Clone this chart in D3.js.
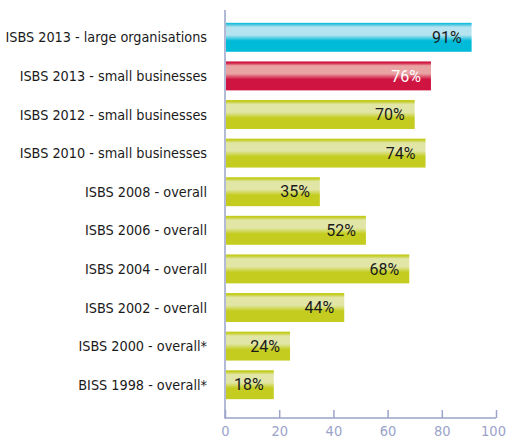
<!DOCTYPE html>
<html>
<head>
<meta charset="utf-8">
<script src="https://cdn.jsdelivr.net/npm/d3@7"></script>
<style>
  body { margin: 0; background: #fff; }
  svg { display: block; }
  .cond { font-family: "DejaVu Sans Condensed", "DejaVu Sans", sans-serif; font-stretch: condensed; }
</style>
</head>
<body>
<div id="chart"></div>
<script>
var labels = [
  "ISBS 2013 - large organisations",
  "ISBS 2013 - small businesses",
  "ISBS 2012 - small businesses",
  "ISBS 2010 - small businesses",
  "ISBS 2008 - overall",
  "ISBS 2006 - overall",
  "ISBS 2004 - overall",
  "ISBS 2002 - overall",
  "ISBS 2000 - overall*",
  "BISS 1998 - overall*"
]
var values = [91, 76, 70, 74, 35, 52, 68, 44, 24, 18]
var kinds = ["large", "small", "other", "other", "other", "other", "other", "other", "other", "other"]
var ticks = [0, 20, 40, 60, 80, 100]

var w = 507, h = 442

var svg = d3.select("#chart")
  .append("svg")
  .attr("width", w)
  .attr("height", h)

// bar gradients: thin dark top edge, light upper half, saturated lower half
var grads = {
  large: { edge: "#3cc3de", light: "#b5e3f0", dark: "#00bbd8" },
  small: { edge: "#d21a44", light: "#e9a3a2", dark: "#d01441" },
  other: { edge: "#c4cd24", light: "#e1e6a7", dark: "#c4cd1f" }
}
var defs = svg.append("defs")
Object.keys(grads).forEach(function(k) {
  var g = defs.append("linearGradient")
    .attr("id", "g-" + k)
    .attr("x1", 0).attr("y1", 0).attr("x2", 0).attr("y2", 1)
  var c = grads[k]
  g.append("stop").attr("offset", "0").attr("stop-color", c.dark)
  g.append("stop").attr("offset", "0.05").attr("stop-color", c.edge)
  g.append("stop").attr("offset", "0.15").attr("stop-color", c.light)
  g.append("stop").attr("offset", "0.42").attr("stop-color", c.light)
  g.append("stop").attr("offset", "0.62").attr("stop-color", c.dark)
  g.append("stop").attr("offset", "1").attr("stop-color", c.dark)
})

var x = d3.scaleLinear().domain([0, 100]).range([225, 496])
var y = d3.scaleBand().domain(labels).range([18, 404])
  .paddingInner(0.25).paddingOuter(0.125)

var axisColor = "#9aa3c9"

// bars
svg.selectAll(".bar")
  .data(values)
  .enter()
  .append("rect")
  .attr("class", "bar")
  .attr("x", x(0) + 1)
  .attr("y", function(d, i) { return y(labels[i]) })
  .attr("width", function(d) { return x(d) - x(0) - 1 })
  .attr("height", y.bandwidth())
  .attr("fill", function(d, i) { return "url(#g-" + kinds[i] + ")" })

// value labels
svg.selectAll(".val")
  .data(values)
  .enter()
  .append("text")
  .attr("class", "val")
  .attr("x", function(d) { return x(d) - 10 })
  .attr("y", function(d, i) { return y(labels[i]) + y.bandwidth() / 2 })
  .attr("dy", "0.36em")
  .attr("text-anchor", "end")
  .attr("font-family", "Roboto, 'Noto Sans', sans-serif")
  .attr("font-size", 16)
  .attr("fill", function(d, i) { return kinds[i] === "small" ? "#fff" : "#1a1a1a" })
  .text(function(d) { return d + "%" })

// category labels
svg.selectAll(".cat")
  .data(labels)
  .enter()
  .append("text")
  .attr("class", "cat cond")
  .attr("x", 207)
  .attr("y", function(d) { return y(d) + y.bandwidth() / 2 })
  .attr("dy", "0.36em")
  .attr("text-anchor", "end")
  .attr("font-size", 14.3)
  .attr("fill", "#1a1a1a")
  .text(function(d) { return d })

// x axis with ticks pointing up
var xAxis = d3.axisBottom(x).tickValues(ticks).tickSize(-8).tickPadding(8)
var ax = svg.append("g")
  .attr("transform", "translate(0,418)")
  .call(xAxis)
ax.select(".domain").remove()
ax.append("line")
  .attr("x1", x(0)).attr("x2", x(100))
  .attr("stroke", axisColor).attr("stroke-width", 1.5)
ax.selectAll(".tick line").attr("stroke", axisColor).attr("stroke-width", 1.5)
ax.selectAll(".tick text")
  .attr("class", "cond")
  .attr("fill", axisColor)
  .attr("font-size", 14.5)
  .attr("dx", function(d) { return d === 100 ? -3 : 0 })

// vertical axis line
svg.append("line")
  .attr("x1", x(0)).attr("x2", x(0))
  .attr("y1", 10).attr("y2", 418.75)
  .attr("stroke", axisColor)
  .attr("stroke-width", 1.5)
</script>
</body>
</html>
